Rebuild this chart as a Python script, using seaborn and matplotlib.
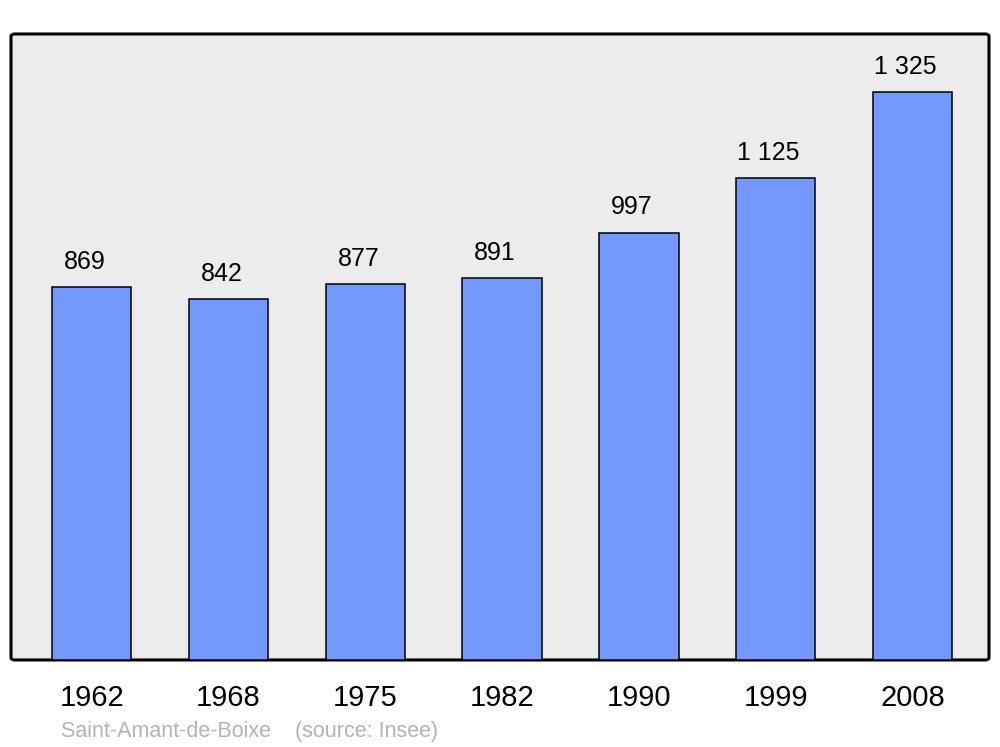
import matplotlib
matplotlib.use("Agg")
import matplotlib.pyplot as plt
import seaborn as sns
import pandas as pd
from matplotlib.patches import FancyBboxPatch

years = ["1962", "1968", "1975", "1982", "1990", "1999", "2008"]
population = [869, 842, 877, 891, 997, 1125, 1325]
value_labels = ["869", "842", "877", "891", "997", "1 125", "1 325"]
source_text = "Saint-Amant-de-Boixe    (source: Insee)"

sns.set_theme(style="white")
plt.rcParams['font.family'] = ['Liberation Sans', 'DejaVu Sans']

df = pd.DataFrame({"year": years, "pop": population})

fig = plt.figure(figsize=(10, 7.47), dpi=100)
ax = fig.add_axes([0.011, 0.1165, 0.978, 0.838])
ax.set_facecolor("none")

bg = FancyBboxPatch((0, 0), 1, 1, boxstyle="round,pad=0,rounding_size=0.004",
                    transform=ax.transAxes, facecolor="#ececec", edgecolor="black",
                    linewidth=2.2, zorder=0, clip_on=False)
ax.add_patch(bg)

sns.barplot(data=df, x="year", y="pop", ax=ax, color="#7399ff", saturation=1,
            width=0.58, edgecolor="black", linewidth=1.1, zorder=2)

for i, (v, lab) in enumerate(zip(population, value_labels)):
    ax.annotate(lab, (i, v), xytext=(-5, 13), textcoords="offset points",
                ha="center", va="baseline", fontsize=18, color="black")

ax.set_xlim(-0.59, 6.56)
ax.set_ylim(0, 1460)
for s in ax.spines.values():
    s.set_visible(False)
ax.set_yticks([])
ax.set_xlabel("")
ax.set_ylabel("")
ax.tick_params(axis="x", length=0, labelsize=21, pad=17, colors="black")

fig.text(0.061, 0.013, source_text, fontsize=15.5, color="#b3b3b3", ha="left", va="baseline")

fig.savefig("out.png", dpi=100, facecolor="white")
